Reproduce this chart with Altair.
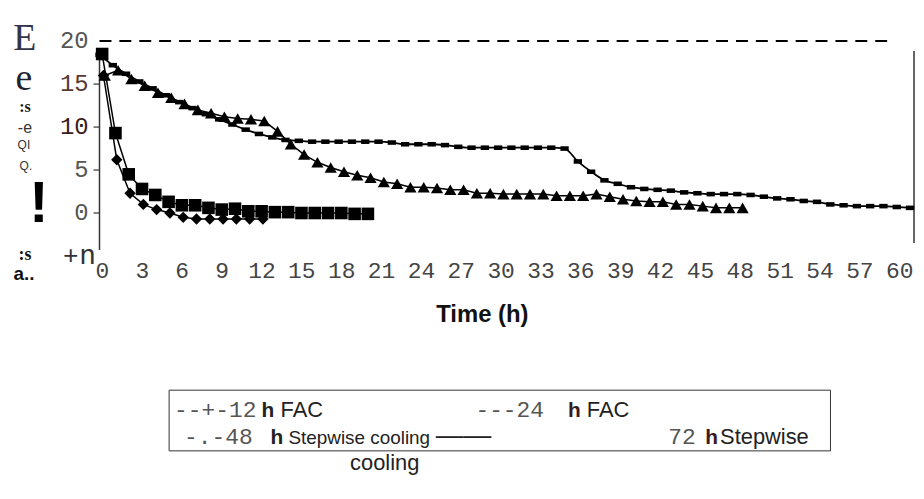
import altair as alt
import pandas as pd

# ---------------- data ----------------
hours_12 = [0.3, 1.3, 2.3, 3.3, 4.3, 5.3, 6.3, 7.3, 8.3, 9.3, 10.3, 11.3, 12.3]
temp_12 = [16.0, 6.2, 2.3, 1.0, 0.4, 0.0, -0.5, -0.7, -0.7, -0.7, -0.7, -0.7, -0.7]

hours_24 = [0.2, 1.2, 2.2, 3.2, 4.2, 5.2, 6.2, 7.2, 8.2, 9.2, 10.2, 11.2, 12.2,
            13.2, 14.2, 15.2, 16.2, 17.2, 18.2, 19.2, 20.2]
temp_24 = [18.5, 9.3, 4.5, 2.8, 2.1, 1.3, 0.9, 0.9, 0.6, 0.4, 0.5, 0.2, 0.2,
           0.1, 0.1, 0.0, 0.0, 0.0, 0.0, -0.1, -0.1]

hours_48 = [0.4, 1.4, 2.4, 3.4, 4.4, 5.4, 6.4, 7.4, 8.4, 9.4, 10.4, 11.4, 12.4,
            13.4, 14.4, 15.4, 16.4, 17.4, 18.4, 19.4, 20.4, 21.4, 22.4, 23.4,
            24.4, 25.4, 26.4, 27.4, 28.4, 29.4, 30.4, 31.4, 32.4, 33.4, 34.4,
            35.4, 36.4, 37.4, 38.4, 39.4, 40.4, 41.4, 42.4, 43.4, 44.4, 45.4,
            46.4, 47.4, 48.4]
temp_48 = [16.0, 16.6, 15.6, 14.8, 14.0, 13.4, 12.7, 12.0, 11.6, 11.2, 11.0, 10.9, 10.7,
           9.5, 8.0, 6.8, 5.9, 5.3, 4.8, 4.4, 4.1, 3.6, 3.4, 3.0,
           3.0, 2.9, 2.7, 2.7, 2.3, 2.3, 2.2, 2.2, 2.2, 2.2, 2.0,
           2.0, 2.0, 2.2, 1.9, 1.6, 1.4, 1.3, 1.3, 1.0, 1.0, 0.8,
           0.6, 0.6, 0.6]

hours_72 = [0, 1, 2, 3, 4, 5, 6, 7, 8, 9, 10, 11, 12, 13, 14, 15, 16, 17, 18, 19,
            20, 21, 22, 23, 24, 25, 26, 27, 28, 29, 30, 31, 32, 33, 34, 35, 36, 37,
            38, 39, 40, 41, 42, 43, 44, 45, 46, 47, 48, 49, 50, 51, 52, 53, 54, 55,
            56, 57, 58, 59, 60, 61]
temp_72 = [18.4, 17.2, 16.2, 15.3, 14.5, 13.7, 12.9, 12.2, 11.5, 10.9, 10.3, 9.7,
           9.2, 8.8, 8.5, 8.4, 8.3, 8.3, 8.3, 8.3, 8.3, 8.3, 8.2, 8.0, 8.0, 8.0,
           7.9, 7.7, 7.6, 7.6, 7.6, 7.6, 7.6, 7.6, 7.6, 7.5, 6.0, 4.8, 3.8, 3.4,
           3.0, 2.8, 2.7, 2.6, 2.4, 2.3, 2.2, 2.2, 2.2, 2.1, 1.9, 1.7, 1.6, 1.4,
           1.3, 1.0, 0.9, 0.8, 0.8, 0.8, 0.7, 0.6]

x_ticks = [0, 3, 6, 9, 12, 15, 18, 21, 24, 27, 30, 33, 36, 39, 42, 45, 48, 51, 54, 57, 60]
y_ticks = [0, 5, 10, 15]
y_labels = [0, 5, 10, 15, 20]
y_label_colors = ["#555555", "#555555", "#3a1a1a", "#5a3a30", "#555555"]

MONO = "Liberation Mono"
SANS = "Liberation Sans"
SERIF = "Liberation Serif"

xs = alt.Scale(domain=[0, 61], nice=False, zero=False)
ys = alt.Scale(domain=[-4.3, 20], nice=False, zero=False)


def series_df(h, t):
    return pd.DataFrame({"t": h, "v": t})


def line_layer(h, t, interp="linear", width=1.5):
    return alt.Chart(series_df(h, t)).mark_line(
        color="black", strokeWidth=width, interpolate=interp
    ).encode(x=alt.X("t:Q", scale=xs, axis=None), y=alt.Y("v:Q", scale=ys, axis=None))


def point_layer(h, t, shape, size):
    return alt.Chart(series_df(h, t)).mark_point(
        shape=shape, size=size, filled=True, color="black", opacity=1
    ).encode(x=alt.X("t:Q", scale=xs, axis=None), y=alt.Y("v:Q", scale=ys, axis=None))


def txt(s, x, y, size, font, weight="normal", color="#222222", align="left"):
    return alt.Chart(pd.DataFrame({"k": [0]})).mark_text(
        text=s, fontSize=size, font=font, fontWeight=weight, color=color,
        align=align, baseline="alphabetic"
    ).encode(x=alt.value(x), y=alt.value(y))


# top dashed line at 20
top_line = alt.Chart(pd.DataFrame({"a": [0], "b": [59.8], "y": [20]})).mark_rule(
    color="black", strokeWidth=2, strokeDash=[12, 8]
).encode(x=alt.X("a:Q", scale=xs, axis=None), x2="b:Q", y=alt.Y("y:Q", scale=ys, axis=None))

# axis frame lines
y_axis_line = alt.Chart(pd.DataFrame({"k": [0]})).mark_rule(color="#333333", strokeWidth=1.5).encode(
    x=alt.value(0), y=alt.value(10), y2=alt.value(210))
right_line = alt.Chart(pd.DataFrame({"k": [0]})).mark_rule(color="#333333", strokeWidth=1.5).encode(
    x=alt.value(819), y=alt.value(10), y2=alt.value(203))

ytick_marks = alt.Chart(pd.DataFrame({"v": y_ticks})).mark_rule(color="#333333", strokeWidth=1.2).encode(
    y=alt.Y("v:Q", scale=ys, axis=None), x=alt.value(-6), x2=alt.value(0))

ylab = alt.Chart(pd.DataFrame({"v": y_labels, "c": y_label_colors, "s": [str(v) for v in y_labels]})).mark_text(
    font=MONO, fontSize=24, align="right", baseline="middle"
).encode(y=alt.Y("v:Q", scale=ys, axis=None), x=alt.value(-11), text="s:N",
         color=alt.Color("c:N", scale=None))

xlab = alt.Chart(pd.DataFrame({"t": x_ticks, "s": [str(v) for v in x_ticks]})).mark_text(
    font=MONO, fontSize=23, align="center", baseline="alphabetic", color="#444444", dx=3
).encode(x=alt.X("t:Q", scale=xs, axis=None), y=alt.value(238), text="s:N")

rect_shape = "M-1,-0.55L1,-0.55L1,0.55L-1,0.55Z"

layers = [
    top_line, y_axis_line, right_line, ytick_marks, ylab, xlab,
    line_layer(hours_72, temp_72, "monotone", 1.8),
    point_layer(hours_72, temp_72, rect_shape, 70),
    line_layer(hours_48, temp_48),
    point_layer(hours_48, temp_48, "triangle-up", 150),
    line_layer(hours_12, temp_12),
    point_layer(hours_12, temp_12, "diamond", 130),
    line_layer(hours_24, temp_24),
    point_layer(hours_24, temp_24, "square", 160),
    # left-side scanned label fragments
    txt("E", -75, 9, 38, SERIF, "normal", "#33334a", "center"),
    txt("e", -76, 49, 38, SERIF, "normal", "#22222e", "center"),
    txt(":s", -75, 71, 16, SERIF, "bold", "#111111", "center"),
    txt("-e", -75, 92, 16, SANS, "normal", "#333333", "center"),
    txt("QI", -76, 108, 12, SANS, "normal", "#333333", "center"),
    txt("Q.", -74, 130, 12, SANS, "normal", "#333333", "center"),
    txt("!", -61, 182, 58, SANS, "bold", "#000000", "center"),
    txt(":s", -75, 220, 18, SERIF, "bold", "#111111", "center"),
    txt("a..", -76, 240, 19, SANS, "bold", "#111111", "center"),
    txt("+", -29, 224, 26, MONO, "normal", "#333333", "center"),
    txt("n", -12, 224, 28, MONO, "normal", "#333333", "center"),
    # axis title
    txt("Time  (h)", 385, 282, 24, SANS, "bold", "#111111", "center"),
]

# legend box
legend_box = alt.Chart(pd.DataFrame({"k": [0]})).mark_rect(
    fill="white", fillOpacity=0, stroke="#333333", strokeWidth=1
).encode(x=alt.value(70), x2=alt.value(735), y=alt.value(351), y2=alt.value(412))
layers.append(legend_box)

layers += [
    txt("--+-12", 75, 378, 23, MONO, "normal", "#555555"),
    txt("h", 163, 378, 21, SANS, "bold", "#222222"),
    txt("FAC", 182, 378, 22, SANS, "normal", "#222222"),
    txt("---24", 378, 378, 23, MONO, "normal", "#555555"),
    txt("h", 471, 378, 21, SANS, "bold", "#3a1a1a"),
    txt("FAC", 490, 378, 22, SANS, "normal", "#222222"),
    txt("-.-48", 85, 405, 23, MONO, "normal", "#555555"),
    txt("h", 172, 405, 21, SANS, "bold", "#222222"),
    txt("Stepwise cooling", 190, 405, 19, SANS, "normal", "#222222"),
    txt("\u2014\u2014", 338, 405, 28, SANS, "normal", "#222222"),
    txt("72", 572, 405, 23, MONO, "normal", "#555555"),
    txt("h", 609, 405, 21, SANS, "bold", "#3a1a1a"),
    txt("Stepwise", 624, 405, 22, SANS, "normal", "#222222"),
    txt("cooling", 252, 431, 22, SANS, "normal", "#222222"),
]

chart = alt.layer(*layers).properties(
    width=815, height=210,
    autosize=alt.AutoSizeParams(type="none"),
    padding={"left": 92, "top": 32, "right": 6, "bottom": 230},
).configure_view(stroke=None)

chart.save("out.html", embed_options={"renderer": "svg", "actions": False})
